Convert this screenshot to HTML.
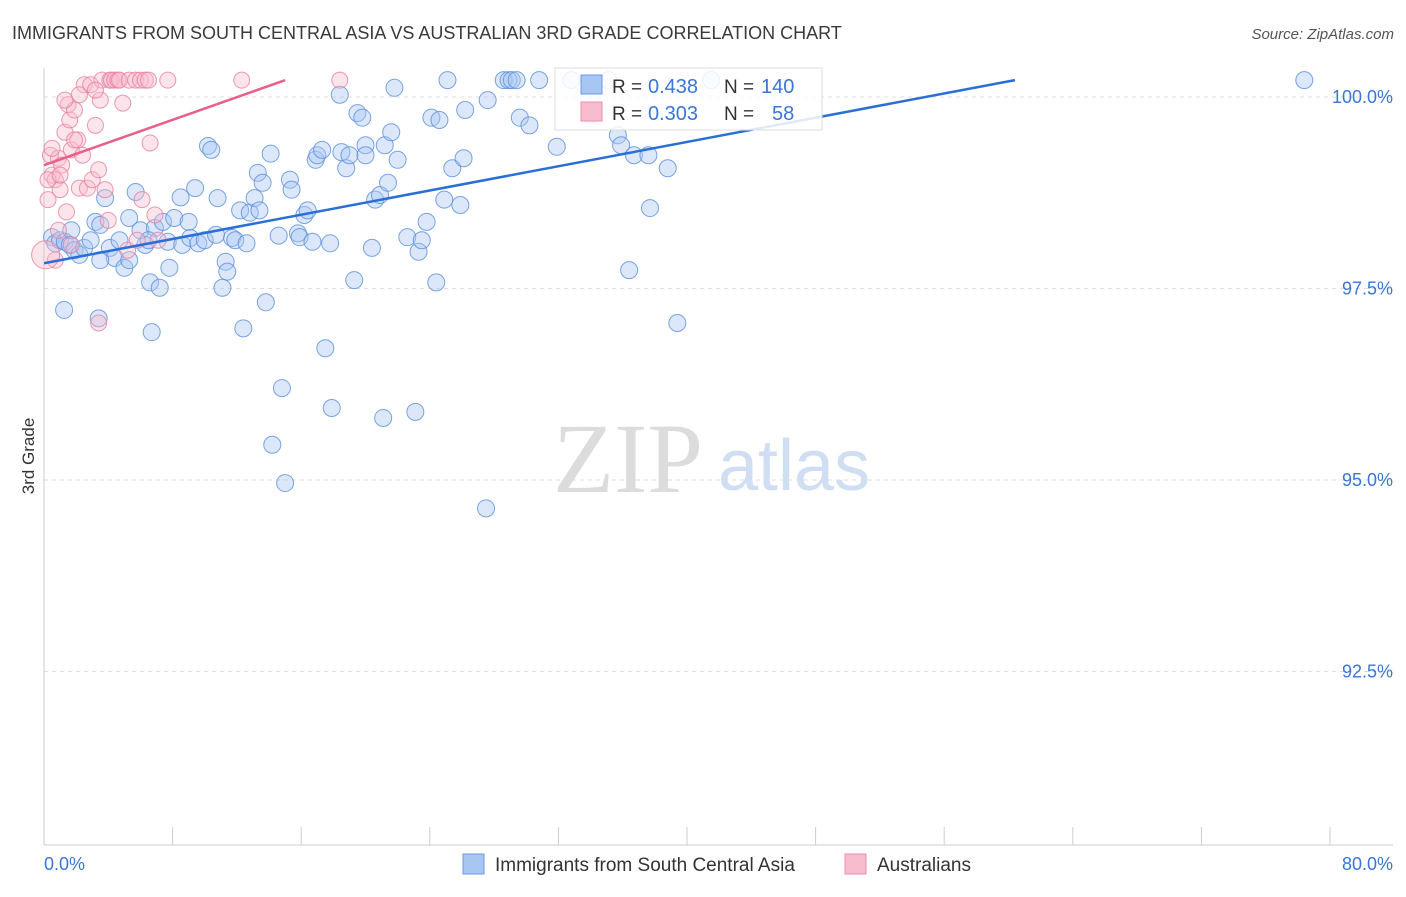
<!DOCTYPE html>
<html><head><meta charset="utf-8"><style>
body{margin:0;background:#fff;font-family:"Liberation Sans",sans-serif;}
</style></head><body>
<svg id="chart" width="1406" height="892" viewBox="0 0 1406 892" xmlns="http://www.w3.org/2000/svg" font-family="Liberation Sans, sans-serif">
<text x="12" y="39" font-size="18" fill="#3a3a3a">IMMIGRANTS FROM SOUTH CENTRAL ASIA VS AUSTRALIAN 3RD GRADE CORRELATION CHART</text>
<text x="1394" y="39" font-size="15" fill="#555" text-anchor="end" font-style="italic">Source: ZipAtlas.com</text>
<text x="34" y="456" font-size="17" fill="#333" text-anchor="middle" transform="rotate(-90 34 456)">3rd Grade</text>
<g>
<text x="553" y="492" font-size="100" fill="#dcdcdc" style="font-family:'Liberation Serif',serif">ZIP</text>
<text x="718" y="490" font-size="72" fill="#cfdef3">atlas</text>
</g>
<g id="grid"></g>
<g id="axes"></g>
<g id="pts"></g>
<g id="lines"></g>
<g>
<rect x="555" y="68" width="267" height="62" fill="#fff" fill-opacity="0.85" stroke="#ddd"/>
<rect x="581" y="75" width="21" height="19" fill="#a8c6f2" stroke="#6b9be0"/>
<rect x="581" y="102" width="21" height="19" fill="#f7bccd" stroke="#ea8fab"/>
<text x="612" y="93" font-size="19" fill="#333">R =</text>
<text x="648" y="93" font-size="20" fill="#3a76d6">0.438</text>
<text x="724" y="93" font-size="19" fill="#333">N =</text>
<text x="761" y="93" font-size="20" fill="#3a76d6">140</text>
<text x="612" y="120" font-size="19" fill="#333">R =</text>
<text x="648" y="120" font-size="20" fill="#3a76d6">0.303</text>
<text x="724" y="120" font-size="19" fill="#333">N =</text>
<text x="772" y="120" font-size="20" fill="#3a76d6">58</text>
</g>
<g>
<rect x="463" y="854" width="21" height="20" fill="#a8c6f2" stroke="#6b9be0"/>
<text x="495" y="871" font-size="19" fill="#333">Immigrants from South Central Asia</text>
<rect x="845" y="854" width="21" height="20" fill="#f7bccd" stroke="#ea8fab"/>
<text x="877" y="871" font-size="19" fill="#333">Australians</text>
</g>
</svg>
<script>
const blueX=[0.5,0.7,1.0,1.3,1.6,1.9,2.2,1.7,2.5,2.9,3.2,3.5,3.8,4.1,4.4,4.7,5.0,5.3,5.7,6.0,6.3,6.6,6.7,6.9,7.2,7.4,7.7,7.8,8.1,8.5,8.6,9.0,9.1,9.4,9.6,10.0,10.2,10.4,10.7,10.8,11.1,11.3,11.4,11.7,11.9,12.2,12.4,12.6,12.8,13.1,13.3,13.4,13.6,13.8,14.1,14.2,14.6,14.8,15.0,15.3,15.4,15.8,15.9,16.2,16.4,16.7,16.9,17.0,17.3,17.5,17.8,17.9,18.4,18.5,18.8,19.0,19.3,19.5,19.8,20.0,20.0,20.4,20.6,20.9,21.1,21.2,21.4,21.6,21.8,22.0,22.6,23.1,23.3,23.5,23.8,24.1,24.4,24.6,24.9,25.1,25.4,25.9,26.1,26.2,27.5,27.6,28.6,28.9,29.1,29.4,29.6,30.2,30.8,31.9,32.8,34.0,35.1,35.7,35.9,36.4,36.7,37.6,37.7,38.8,39.4,41.5,78.4,1.25,3.4,5.3,6.5,3.5];
const blueY=[98.17,98.09,98.13,98.11,98.07,98.00,97.94,98.26,98.03,98.13,98.37,98.33,98.68,98.03,97.90,98.13,97.77,98.42,98.76,98.26,98.07,97.58,96.93,98.29,97.51,98.37,98.11,97.77,98.42,98.69,98.07,98.37,98.16,98.81,98.09,98.13,99.36,99.31,98.20,98.68,97.51,97.85,97.72,98.16,98.13,98.52,96.98,98.09,98.49,98.68,99.01,98.52,98.88,97.32,99.26,95.46,98.19,96.20,94.96,98.92,98.79,98.22,98.17,98.46,98.52,98.11,99.18,99.24,99.31,96.72,98.09,95.94,100.03,99.28,99.07,99.24,97.61,99.79,99.73,99.37,99.24,98.03,98.66,98.72,95.81,99.37,98.88,99.54,100.12,99.18,98.17,95.89,97.98,98.13,98.37,99.73,97.58,99.70,98.66,100.22,99.07,98.59,99.20,99.83,94.63,99.96,100.22,100.22,100.22,100.22,99.73,99.63,100.22,99.35,100.22,99.77,100.22,99.50,99.37,97.74,99.24,99.24,98.55,99.07,97.05,100.22,100.22,97.22,97.11,97.87,98.13,97.87];
const pinkX=[0.25,0.4,0.5,0.7,0.9,1.0,1.1,1.3,1.5,1.6,1.7,1.9,2.1,2.2,2.4,2.5,2.7,2.9,3.0,3.2,3.4,3.5,3.6,3.8,4.0,4.1,4.2,4.4,4.6,4.7,4.9,5.2,5.3,5.7,5.8,6.0,6.1,6.3,6.5,6.6,6.9,7.1,7.7,12.3,18.4,3.4,1.4,1.7,0.25,0.5,0.7,1.0,0.1,1.9,2.2,3.2,0.9,1.3];
const pinkY=[98.66,99.24,98.98,98.92,99.20,98.79,99.11,99.54,99.90,99.70,99.31,99.83,99.44,98.81,99.24,100.16,98.81,100.16,98.92,99.63,99.05,99.96,100.22,98.79,98.39,100.22,100.22,100.22,100.22,100.22,99.92,98.00,100.22,100.22,98.13,100.22,98.66,100.22,100.22,99.40,98.46,98.13,100.22,100.22,100.22,97.05,98.50,98.07,98.92,99.33,97.87,98.98,97.94,99.44,100.03,100.09,98.26,99.96];
const blueTrend=[0,97.83,60.4,100.22];
const pinkTrend=[0,99.11,15,100.22];
const yTicks=[100,97.5,95,92.5];
const yTickLabels=["100.0%","97.5%","95.0%","92.5%"];
const xTicks=[0,8,16,24,32,40,48,56,64,72,80];

const NS="http://www.w3.org/2000/svg";
const sx=v=>44+v*16.075;
const sy=v=>97+(100-v)*76.6;
function mk(parent,tag,attrs){const e=document.createElementNS(NS,tag);for(const k in attrs)e.setAttribute(k,attrs[k]);document.getElementById(parent).appendChild(e);return e;}
yTicks.forEach((t,i)=>{
  const g=mk('grid','line',{x1:44,x2:1393,y1:sy(t),y2:sy(t),stroke:'#ddd','stroke-dasharray':'4,4'});
  
  
  const l=mk('axes','text',{x:1393,y:sy(t)+6,'font-size':18,fill:'#3a76d6','text-anchor':'end'});
  l.textContent=yTickLabels[i];
  
  
});
const ax=mk('axes','line',{x1:44,x2:44,y1:68,y2:845,stroke:'#ccc'});


const bx=mk('axes','line',{x1:44,x2:1393,y1:845,y2:845,stroke:'#ccc'});


xTicks.forEach(t=>{
  const tk=mk('axes','line',{x1:sx(t),x2:sx(t),y1:827,y2:845,stroke:'#ccc'});
  
  
});
const xl0=mk('axes','text',{x:44,y:870,'font-size':18,fill:'#3a76d6'});xl0.textContent='0.0%';


const xl1=mk('axes','text',{x:1393,y:870,'font-size':18,fill:'#3a76d6','text-anchor':'end'});xl1.textContent='80.0%';


blueX.forEach((x,i)=>{
  const c=mk('pts','circle',{cx:sx(x),cy:sy(blueY[i]),r:8.5,fill:'#a8c6f2','fill-opacity':0.4,stroke:'#5a8fdc','stroke-opacity':0.8,'stroke-width':1});
  
  
});
pinkX.forEach((x,i)=>{
  const c=mk('pts','circle',{cx:sx(x),cy:sy(pinkY[i]),r:i===52?14:8,fill:'#f7bccd','fill-opacity':0.4,stroke:'#e87fa0','stroke-opacity':0.8,'stroke-width':1});
  
  
});
const bl=mk('lines','line',{x1:sx(blueTrend[0]),y1:sy(blueTrend[1]),x2:sx(blueTrend[2]),y2:sy(blueTrend[3]),stroke:'#2a6fd6','stroke-width':2.5});


const pl=mk('lines','line',{x1:sx(pinkTrend[0]),y1:sy(pinkTrend[1]),x2:sx(pinkTrend[2]),y2:sy(pinkTrend[3]),stroke:'#e8608a','stroke-width':2.5});


</script>
</body></html>
